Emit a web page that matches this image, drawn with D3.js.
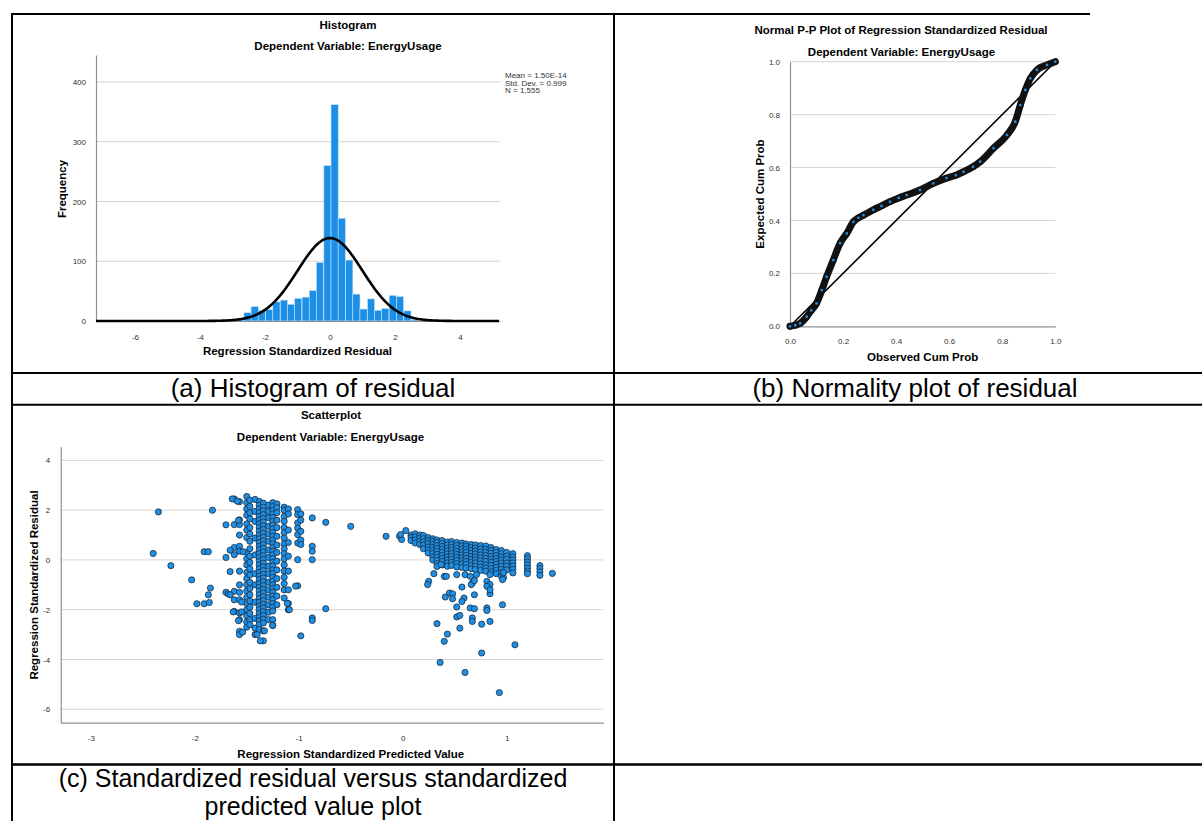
<!DOCTYPE html>
<html>
<head>
<meta charset="utf-8">
<script src="https://cdn.jsdelivr.net/npm/d3@7"></script>
<style>
  body { margin: 0; background: #fff; }
  text { font-family: "Liberation Sans", Arial, sans-serif; }
  .tick text { font-size: 8px; fill: #333; }
  .ttl { font-size: 11.5px; font-weight: bold; fill: #000; }
  .cap { font-size: 26px; fill: #000; }
</style>
</head>
<body>
<svg id="chart" width="1202" height="821"></svg>
<script>
// ---- histogram (a) ----
var histEdges = [-3.10, -2.88, -2.65, -2.43, -2.21, -1.98, -1.76, -1.53, -1.31, -1.09, -0.86, -0.64, -0.42,
                 -0.19, 0.03, 0.25, 0.48, 0.70, 0.92, 1.15, 1.37, 1.59, 1.82, 2.04, 2.27, 2.49];
var histCounts = [3, 3, 14, 24, 18, 19, 32, 35, 28, 38, 40, 51, 98,
                  260, 362, 172, 102, 45, 20, 37, 18, 21, 43, 41, 17, 2];
var binWidth = 0.2235;
var histStats = { mean: 1.50E-14, sd: 0.999, n: 1555 };
var histStatLines = ["Mean = 1.50E-14", "Std. Dev. = 0.999", "N = 1,555"];
var histYTicks = [0, 100, 200, 300, 400];
var histXTicks = [-6, -4, -2, 0, 2, 4];

// ---- normal P-P plot (b) ----
var ppObserved = [0, 0.02, 0.038, 0.063, 0.08, 0.10, 0.12, 0.138, 0.163, 0.189, 0.214, 0.239, 0.258, 0.277, 0.314,
                  0.345, 0.377, 0.41, 0.44, 0.49, 0.54, 0.59, 0.625, 0.654, 0.69, 0.717, 0.767, 0.818, 0.849,
                  0.868, 0.887, 0.906, 0.931, 0.969, 1.0];
var ppExpected = [0, 0.004, 0.011, 0.036, 0.06, 0.087, 0.137, 0.187, 0.25, 0.314, 0.351, 0.395, 0.41, 0.42, 0.44,
                  0.455, 0.471, 0.485, 0.496, 0.515, 0.54, 0.56, 0.571, 0.584, 0.603, 0.622, 0.673, 0.723, 0.773,
                  0.836, 0.893, 0.937, 0.969, 0.988, 1.0];
var ppTicks = [0, 0.2, 0.4, 0.6, 0.8, 1.0];

// ---- scatterplot (c) ----  [predicted, [residuals...]]
var leftColumns = [
  [-1.62, [2.45, 1.42, 0.5, 0.21, -1.26, -1.6, -2.07]],
  [-1.57, [2.34, 1.61, 1.42, 1.0, 0.55, 0.35, -0.45, -1.0, -1.3, -1.6, -2.13, -2.4, -2.87, -3.0]],
  [-1.50, [2.55, 2.3, 2.05, 1.8, 1.45, 1.2, 0.9, 0.3, 0.05, -0.2, -0.5, -0.75, -1.0, -1.25, -1.5, -1.75, -2.0, -2.25, -2.5, -2.7]],
  [-1.47, [2.4, 2.15, 1.9, 1.65, 1.3, 1.05, 0.75, 0.45, 0.15, -0.1, -0.35, -0.6, -0.9, -1.15, -1.4, -1.65, -1.9, -2.15, -2.4, -2.6]],
  [-1.42, [2.43, 1.95, 1.55, 0.88, 0.2, -0.55, -1.0, -1.7, -2.35, -2.74, -3.0]],
  [-1.38, [2.35, 2.2, 2.05, 1.9, 1.75, 1.6, 1.45, 1.3, 1.15, 1.0, 0.85, 0.7, 0.55, 0.4, 0.25, 0.1, -0.05, -0.2, -0.35,
           -0.5, -0.65, -0.8, -0.95, -1.1, -1.25, -1.4, -1.55, -1.7, -1.85, -2.0, -2.15, -2.3, -2.45, -2.6, -2.8]],
  [-1.34, [2.28, 2.12, 1.97, 1.82, 1.67, 1.52, 1.37, 1.22, 1.07, 0.92, 0.77, 0.62, 0.47, 0.32, 0.17, 0.02, -0.13, -0.28,
           -0.43, -0.58, -0.73, -0.88, -1.03, -1.18, -1.33, -1.48, -1.63, -1.78, -1.93, -2.08, -2.23, -2.38, -2.53, -2.85, -3.25]],
  [-1.29, [2.2, 1.95, 1.7, 1.35, 1.05, 0.75, 0.4, 0.1, -0.25, -0.55, -0.9, -1.2, -1.5, -1.8, -2.1, -2.4]],
  [-1.25, [2.3, 2.15, 2.0, 1.85, 1.7, 1.55, 1.4, 1.25, 1.1, 0.95, 0.8, 0.65, 0.5, 0.35, 0.2, 0.05, -0.1, -0.25, -0.4,
           -0.55, -0.7, -0.85, -1.0, -1.15, -1.3, -1.45, -1.6, -1.75, -1.9, -2.05, -2.4, -2.63]],
  [-1.21, [2.25, 2.1, 1.9, 1.6, 1.3, 0.95, 0.6, 0.3, -0.05, -0.4, -0.75, -1.1, -1.45, -1.8]],
  [-1.14, [2.12, 2.0, 1.75, 1.55, 1.3, 1.1, 0.88, 0.65, 0.45, 0.25, 0.05, -0.2, -0.45, -0.7, -0.95, -1.2, -1.53]],
  [-1.10, [2.05, 1.85, 1.2, 0.7, 0.15, -0.45, -1.2, -1.75, -2.0]],
  [-1.01, [2.02, 1.82, 1.49, 1.28, 1.02, 0.68, 0.01, -1.04]],
  [-0.98, [1.85, 1.6, 1.15, 0.8, 0.62, -3.05]],
  [-0.87, [1.69, 0.55, 0.35, 0.01, -2.33, -2.43]]
];
var rightColumns = [
  [0.08, [1.0, 0.9, 0.78]],
  [0.12, [1.05, 0.92, 0.8, 0.68]],
  [0.165, [1.0, 0.88, 0.75, 0.62]],
  [0.20, [0.98, 0.85, 0.72, 0.6, 0.45]],
  [0.245, [0.9, 0.78, 0.65, 0.52, 0.4, 0.28]],
  [0.29, [0.85, 0.75, 0.62, 0.5, 0.38, 0.25, 0.12, 0.0]],
  [0.33, [0.8, 0.7, 0.58, 0.46, 0.34, 0.22, 0.1, -0.02, -0.15]],
  [0.38, [0.78, 0.66, 0.54, 0.42, 0.3, 0.18, 0.06, -0.06, -0.2]],
  [0.43, [0.72, 0.6, 0.48, 0.36, 0.24, 0.12, 0.0, -0.12, -0.25]],
  [0.47, [0.74, 0.62, 0.5, 0.38, 0.26, 0.14, 0.02, -0.1, -0.22]],
  [0.52, [0.7, 0.58, 0.46, 0.34, 0.22, 0.1, -0.02, -0.15, -0.28]],
  [0.57, [0.68, 0.56, 0.44, 0.32, 0.2, 0.08, -0.04, -0.16, -0.3]],
  [0.61, [0.64, 0.54, 0.42, 0.3, 0.18, 0.06, -0.06, -0.18, -0.32]],
  [0.66, [0.62, 0.5, 0.38, 0.26, 0.14, 0.02, -0.1, -0.22, -0.35]],
  [0.70, [0.6, 0.48, 0.36, 0.24, 0.12, 0.0, -0.12, -0.25, -0.38]],
  [0.75, [0.58, 0.44, 0.32, 0.2, 0.08, -0.04, -0.16, -0.28, -0.42]],
  [0.80, [0.56, 0.42, 0.3, 0.18, 0.06, -0.06, -0.2, -0.32, -0.45]],
  [0.85, [0.5, 0.38, 0.26, 0.14, 0.02, -0.1, -0.22, -0.35, -0.48]],
  [0.90, [0.42, 0.3, 0.18, 0.06, -0.06, -0.18, -0.3, -0.42, -0.55]],
  [0.95, [0.38, 0.25, 0.12, 0.0, -0.12, -0.25, -0.38, -0.52, -0.66]],
  [1.00, [0.3, 0.15, 0.02, -0.12, -0.25, -0.4]],
  [1.06, [0.25, 0.12, 0.0, -0.12, -0.25, -0.38, -0.52]],
  [1.20, [0.17, 0.05, -0.08, -0.2, -0.33, -0.45, -0.55]],
  [1.32, [-0.23, -0.35, -0.48, -0.62]],
  [1.44, [-0.54]]
];
var scatterSingles = [
  [-2.35, 1.93], [-2.40, 0.26], [-2.23, -0.23], [-2.03, -0.80], [-1.83, 2.0], [-1.91, 0.33], [-1.87, 0.33],
  [-1.85, -1.13], [-1.98, -1.76], [-1.91, -1.76], [-1.86, -1.71], [-1.87, -1.40], [-1.70, -1.30], [-1.68, -1.36],
  [-1.66, -1.40], [-1.70, 1.41], [-1.70, 0.10], [-1.66, 0.39], [-1.66, -0.47], [-1.64, 2.45], [-1.59, 2.36],
  [-1.58, 1.59], [-1.535, 0.33], [-1.63, -2.09], [-1.55, -1.69], [-1.55, -2.09], [-1.58, -2.44], [-1.54, -2.9],
  [-1.40, -3.0], [-1.37, -3.25], [-1.33, -2.85], [-1.25, -2.63], [-1.11, -1.75], [-1.09, -2.0], [-1.03, -1.05],
  [-0.74, 1.51], [-0.74, -1.96], [-0.50, 1.35], [-0.16, 0.95], [-0.03, 0.95], [-0.01, 0.82], [-0.02, 1.02], [0.03, 1.18],
  [0.33, -0.26], [0.37, -0.18], [0.30, -0.55], [0.40, -0.66], [0.42, -0.66], [0.52, -0.59], [0.60, -0.59],
  [0.65, -0.66], [0.71, -0.59], [0.67, -0.93], [0.25, -0.86], [0.24, -0.99], [0.57, -1.09], [0.81, -0.86],
  [0.84, -0.99], [0.84, -0.59], [0.97, -0.71], [0.97, -0.51], [0.41, -1.49], [0.45, -1.33], [0.48, -1.36],
  [0.48, -1.56], [0.66, -0.99], [0.69, -0.83], [0.59, -1.53], [0.57, -1.67], [0.69, -1.40], [0.81, -1.06],
  [0.84, -1.36], [0.84, -1.2], [0.96, -0.79], [0.96, -1.80], [0.52, -1.89], [0.65, -1.93], [0.69, -1.96],
  [0.81, -1.93], [0.81, -2.03], [0.52, -2.29], [0.55, -2.23], [0.67, -2.33], [0.67, -2.47], [0.76, -2.58],
  [0.84, -2.47], [0.33, -2.56], [0.55, -2.74], [0.43, -2.98], [0.40, -3.27], [1.08, -3.41], [0.76, -3.74],
  [0.36, -4.12], [0.60, -4.52], [0.93, -5.33]
];
var scYTicks = [-6, -4, -2, 0, 2, 4];
var scXTicks = [-3, -2, -1, 0, 1];

var captions = {
  a: ["(a) Histogram of residual"],
  b: ["(b) Normality plot of residual"],
  c: ["(c) Standardized residual versus standardized", "predicted value plot"]
};

var svg = d3.select("#chart");
var BLUE = "#1e8fe6";
var GRID = "#d5d5d5";
var AXIS = "#8f8f8f";
var plain = function(d) { return String(d); };   // keep the hyphen minus like SPSS

function styleAxis(g) {
  g.select(".domain").attr("stroke", AXIS).attr("stroke-width", 1.2);
  g.selectAll(".tick line").remove();
}

function hGrid(g, scale, vals, x0, x1) {
  g.selectAll(null).data(vals).enter().append("line")
    .attr("x1", x0).attr("x2", x1)
    .attr("y1", function(d) { return scale(d); })
    .attr("y2", function(d) { return scale(d); })
    .attr("stroke", GRID).attr("stroke-width", 1);
}

// ================= histogram =================
var hx = d3.scaleLinear().domain([-7.2, 5.23]).range([96, 500]);
var hy = d3.scaleLinear().domain([0, 445]).range([321, 55]);
var gh = svg.append("g");

hGrid(gh, hy, [100, 200, 300, 400], 96, 500);

gh.selectAll("rect").data(histCounts).enter().append("rect")
  .attr("x", function(d, i) { return hx(histEdges[i]); })
  .attr("width", function(d, i) { return hx(histEdges[i] + binWidth) - hx(histEdges[i]); })
  .attr("y", function(d) { return hy(d); })
  .attr("height", function(d) { return hy(0) - hy(d); })
  .attr("fill", BLUE).attr("stroke", "#cfe5f7").attr("stroke-width", 0.6);

gh.append("g").attr("transform", "translate(96,0)")
  .call(d3.axisLeft(hy).tickValues(histYTicks).tickFormat(plain).tickSizeOuter(0).tickPadding(4))
  .call(styleAxis);
gh.append("g").attr("transform", "translate(0,321)")
  .call(d3.axisBottom(hx).tickValues(histXTicks).tickFormat(plain).tickSizeOuter(0).tickPadding(7))
  .call(styleAxis);

// fitted normal curve from the stated mean / sd / N
var curveX = d3.range(-7.2, 5.24, 0.04);
var scaleN = histStats.n * binWidth / (histStats.sd * Math.sqrt(2 * Math.PI));
gh.append("path")
  .datum(curveX)
  .attr("fill", "none").attr("stroke", "#000").attr("stroke-width", 2.6)
  .attr("d", d3.line()
    .x(function(d) { return hx(d); })
    .y(function(d) {
      var z = (d - histStats.mean) / histStats.sd;
      return hy(scaleN * Math.exp(-0.5 * z * z));
    }));

gh.append("text").attr("class", "ttl").attr("x", 348).attr("y", 29).attr("text-anchor", "middle").text("Histogram");
gh.append("text").attr("class", "ttl").attr("x", 348).attr("y", 50).attr("text-anchor", "middle").text("Dependent Variable: EnergyUsage");
gh.append("text").attr("class", "ttl").attr("x", 297.5).attr("y", 355).attr("text-anchor", "middle").text("Regression Standardized Residual");
gh.append("text").attr("class", "ttl").attr("text-anchor", "middle")
  .attr("transform", "translate(66,189) rotate(-90)").text("Frequency");
gh.selectAll(".stat").data(histStatLines).enter().append("text")
  .attr("x", 505).attr("y", function(d, i) { return 78 + i * 7.6; })
  .attr("font-size", "8px").attr("fill", "#333").text(function(d) { return d; });

// ================= P-P plot =================
var px = d3.scaleLinear().domain([0, 1]).range([790, 1055.3]);
var py = d3.scaleLinear().domain([0, 1]).range([326.3, 61.7]);
var gp = svg.append("g");

hGrid(gp, py, [0.2, 0.4, 0.6, 0.8, 1.0], 790, 1055.3);

gp.append("g").attr("transform", "translate(790,0)")
  .call(d3.axisLeft(py).tickValues(ppTicks).tickFormat(d3.format(".1f")).tickSizeOuter(0).tickPadding(4))
  .call(styleAxis);
gp.append("g").attr("transform", "translate(0,326.3)")
  .call(d3.axisBottom(px).tickValues(ppTicks).tickFormat(d3.format(".1f")).tickSizeOuter(0).tickPadding(6))
  .call(styleAxis);

gp.append("line")
  .attr("x1", px(0)).attr("y1", py(0)).attr("x2", px(1)).attr("y2", py(1))
  .attr("stroke", "#000").attr("stroke-width", 1.6);

var ppPts = ppObserved.map(function(d, i) { return [d, ppExpected[i]]; });
gp.append("path").datum(ppPts)
  .attr("fill", "none").attr("stroke", "#111").attr("stroke-width", 7).attr("stroke-linecap", "round")
  .attr("d", d3.line().curve(d3.curveMonotoneX)
    .x(function(d) { return px(d[0]); }).y(function(d) { return py(d[1]); }));
gp.selectAll("circle").data(ppPts).enter().append("circle")
  .attr("cx", function(d) { return px(d[0]); }).attr("cy", function(d) { return py(d[1]); })
  .attr("r", 2.3).attr("fill", BLUE).attr("stroke", "#111").attr("stroke-width", 1.8);

gp.append("text").attr("class", "ttl").attr("x", 901).attr("y", 34).attr("text-anchor", "middle").text("Normal P-P Plot of Regression Standardized Residual");
gp.append("text").attr("class", "ttl").attr("x", 901.5).attr("y", 56).attr("text-anchor", "middle").text("Dependent Variable: EnergyUsage");
gp.append("text").attr("class", "ttl").attr("x", 922.7).attr("y", 361).attr("text-anchor", "middle").text("Observed Cum Prob");
gp.append("text").attr("class", "ttl").attr("text-anchor", "middle")
  .attr("transform", "translate(764,194) rotate(-90)").text("Expected Cum Prob");

// ================= scatterplot =================
var sx = d3.scaleLinear().domain([-3.29, 1.93]).range([60.7, 603.3]);
var sy = d3.scaleLinear().domain([-6.54, 4.55]).range([722.7, 446.7]);
var gs = svg.append("g");

hGrid(gs, sy, scYTicks, 60.7, 603.3);

gs.append("g").attr("transform", "translate(60.7,0)")
  .call(d3.axisLeft(sy).tickValues(scYTicks).tickFormat(plain).tickSizeOuter(0).tickPadding(4.5))
  .call(styleAxis);
gs.append("g").attr("transform", "translate(0,722.7)")
  .call(d3.axisBottom(sx).tickValues(scXTicks).tickFormat(plain).tickSizeOuter(0).tickPadding(7))
  .call(styleAxis);

var scPts = [];
leftColumns.concat(rightColumns).forEach(function(c) {
  c[1].forEach(function(v) { scPts.push([c[0], v]); });
});
scPts = scPts.concat(scatterSingles);

gs.selectAll("circle").data(scPts).enter().append("circle")
  .attr("cx", function(d) { return sx(d[0]); }).attr("cy", function(d) { return sy(d[1]); })
  .attr("r", 3.1).attr("fill", BLUE).attr("stroke", "#1a2633").attr("stroke-width", 0.75);

gs.append("text").attr("class", "ttl").attr("x", 331).attr("y", 419).attr("text-anchor", "middle").text("Scatterplot");
gs.append("text").attr("class", "ttl").attr("x", 330.5).attr("y", 441).attr("text-anchor", "middle").text("Dependent Variable: EnergyUsage");
gs.append("text").attr("class", "ttl").attr("x", 350.8).attr("y", 758).attr("text-anchor", "middle").text("Regression Standardized Predicted Value");
gs.append("text").attr("class", "ttl").attr("text-anchor", "middle")
  .attr("transform", "translate(37.5,585) rotate(-90)").text("Regression Standardized Residual");

// ================= table frame and captions =================
var gt = svg.append("g").attr("stroke", "#000").attr("stroke-width", 2);
gt.append("line").attr("x1", 11).attr("x2", 1090).attr("y1", 14).attr("y2", 14);
gt.append("line").attr("x1", 11).attr("x2", 1202).attr("y1", 373).attr("y2", 373);
gt.append("line").attr("x1", 11).attr("x2", 1202).attr("y1", 404.7).attr("y2", 404.7);
gt.append("line").attr("x1", 11).attr("x2", 1202).attr("y1", 764.5).attr("y2", 764.5).attr("stroke-width", 2.6);
gt.append("line").attr("x1", 12).attr("x2", 12).attr("y1", 13).attr("y2", 821);
gt.append("line").attr("x1", 614).attr("x2", 614).attr("y1", 13).attr("y2", 821);

function caption(lines, cx, y0, gap, size) {
  svg.selectAll(null).data(lines).enter().append("text")
    .attr("class", "cap").attr("text-anchor", "middle").style("font-size", size + "px")
    .attr("x", cx).attr("y", function(d, i) { return y0 + i * gap; })
    .text(function(d) { return d; });
}
caption(captions.a, 313, 397, 0, 26);
caption(captions.b, 915, 397, 0, 26);
caption(captions.c, 313, 787, 28, 25);
</script>
</body>
</html>
